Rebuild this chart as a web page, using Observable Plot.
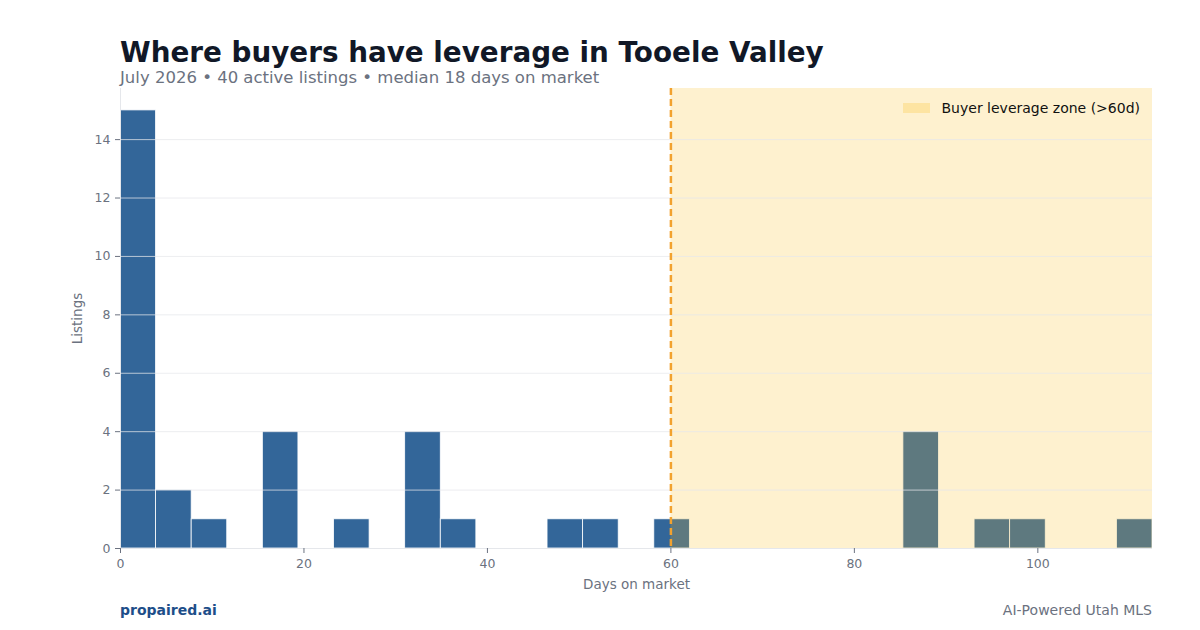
<!DOCTYPE html>
<html>
<head>
<meta charset="utf-8">
<script src="https://cdn.jsdelivr.net/npm/d3@7"></script>
<script src="https://cdn.jsdelivr.net/npm/@observablehq/plot@0.6"></script>
<style>
  html, body { margin: 0; padding: 0; background: #fff; }
  #wrap { position: relative; width: 1200px; height: 630px; font-family: "DejaVu Sans", sans-serif; overflow: hidden; }
  #title { position: absolute; left: 120px; top: 36px; font-size: 27.8px; font-weight: bold; color: #111827; white-space: nowrap; }
  #subtitle { position: absolute; left: 120px; top: 67.5px; font-size: 16.5px; color: #6b7280; white-space: nowrap; }
  #chart { position: absolute; left: 0; top: 0; }
  #legend { position: absolute; right: 60px; top: 100px; font-size: 14px; color: #111; display: flex; align-items: center; white-space: nowrap; }
  #legend .sw { width: 27px; height: 10px; background: #fde4a2; margin-right: 12px; }
  #brand { position: absolute; left: 120px; top: 601.5px; font-size: 14px; font-weight: bold; color: #1d4e89; }
  #tag { position: absolute; right: 48px; top: 601.5px; font-size: 14px; color: #6b7280; }
</style>
</head>
<body>
<div id="wrap">
  <div id="chart"></div>
  <div id="title">Where buyers have leverage in Tooele Valley</div>
  <div id="subtitle">July 2026 • 40 active listings • median 18 days on market</div>
  <div id="legend"><div class="sw"></div><span>Buyer leverage zone (&gt;60d)</span></div>
  <div id="brand">propaired.ai</div>
  <div id="tag">AI-Powered Utah MLS</div>
</div>
<script>
// Histogram bins (days on market)
const binWidth = 3.879;
const binStart = [0, 3.879, 7.759, 15.517, 23.276, 31.034, 34.914, 46.552, 50.431, 58.190, 85.345, 93.103, 96.983, 108.621];
const binCount = [15, 2, 1, 4, 1, 4, 1, 1, 1, 1, 4, 1, 1, 1];
const xMax = 112.5;
const yMax = 15.75;
const threshold = 60;
const xTicks = [0, 20, 40, 60, 80, 100];
const yTicks = [0, 2, 4, 6, 8, 10, 12, 14];

const bins = binStart.map((s, i) => ({x1: s, x2: s + binWidth, count: binCount[i]}));
const zone = [{x1: threshold, x2: xMax}];

const chart = Plot.plot({
  width: 1200,
  height: 630,
  marginTop: 88,
  marginBottom: 82,
  marginLeft: 120,
  marginRight: 48,
  style: "font-family: 'DejaVu Sans', sans-serif; font-size: 12.5px; color: #6b7280; background: transparent;",
  x: {domain: [0, xMax]},
  y: {domain: [0, yMax]},
  marks: [
    Plot.rect(bins, {x1: "x1", x2: "x2", y1: 0, y2: "count", fill: "#336699", stroke: "#ffffff", strokeWidth: 0.8}),
    Plot.rect(zone, {x1: "x1", x2: "x2", y1: 0, y2: yMax, fill: "#fbbf24", fillOpacity: 0.22}),
    Plot.ruleY(yTicks.slice(1), {stroke: "#e5e7eb", strokeOpacity: 0.75, strokeWidth: 1}),
    Plot.ruleX([0], {stroke: "#e5e7eb", strokeWidth: 1}),
    Plot.ruleY([0], {stroke: "#e5e7eb", strokeWidth: 1}),
    Plot.ruleX([threshold], {stroke: "#f2a22e", strokeWidth: 2.5, strokeDasharray: "7,4"}),
    Plot.axisX({ticks: xTicks, tickSize: 5, tickPadding: 6, fontSize: 12.5, stroke: "#6b7280", color: "#6b7280", label: null}),
    Plot.axisX({ticks: [], tickSize: 0, label: "Days on market", labelAnchor: "center", labelArrow: "none", labelOffset: 40, fontSize: 13.5}),
    Plot.axisY({ticks: yTicks, tickSize: 5, tickPadding: 5, fontSize: 12.5, stroke: "#6b7280", label: null}),
    Plot.axisY({ticks: [], tickSize: 0, label: "Listings", labelAnchor: "center", labelArrow: "none", labelOffset: 48, fontSize: 13.5})
  ]
});
d3.select(chart).selectAll("g[aria-label='x-axis tick label'], g[aria-label='y-axis tick label']")
  .style("font-size", "12.5px").attr("font-size", "12.5px")
  .selectAll("text").style("font-size", "12.5px");
document.getElementById("chart").appendChild(chart);
</script>
</body>
</html>
